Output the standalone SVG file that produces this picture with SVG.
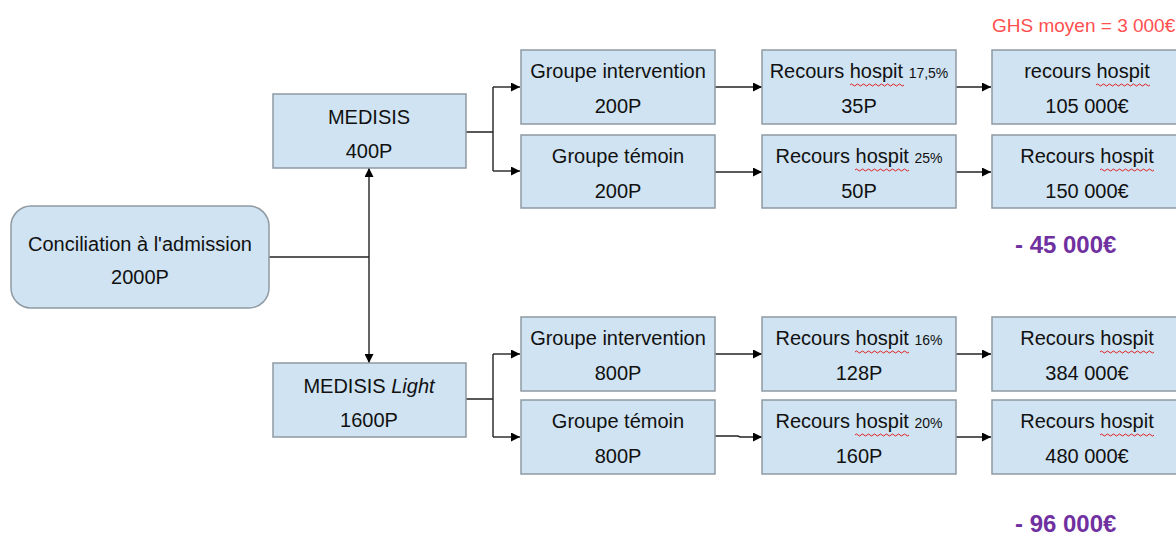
<svg xmlns="http://www.w3.org/2000/svg" width="1176" height="538" viewBox="0 0 1176 538">
<defs>
<marker id="ah" viewBox="0 0 10 10" refX="10" refY="5" markerWidth="10" markerHeight="9" markerUnits="userSpaceOnUse" orient="auto">
<path d="M0,0 L10,5 L0,10 z" fill="#000"/>
</marker>
<path id="wave" d="M0,0 q1.5,-2 3,0 t3,0 t3,0 t3,0 t3,0 t3,0 t3,0 t3,0 t3,0 t3,0 t3,0 t3,0 t3,0 t3,0 t3,0 t3,0 t3,0 t3,0"/>
<style>
.box{fill:#cfe3f2;stroke:#8f9aa3;stroke-width:1.5}
.t{font-family:"Liberation Sans",Arial,sans-serif;font-size:20px;fill:#111;text-anchor:middle}
.s{font-size:14px}
.c{fill:none;stroke:#222;stroke-width:1.4}
.sq{fill:none;stroke:#e02020;stroke-width:1}
.ghs{font-family:"Liberation Sans",Arial,sans-serif;font-size:19px;fill:#ff4f4f}
.tot{font-family:"Liberation Sans",Arial,sans-serif;font-size:24px;font-weight:bold;fill:#7030a0}
</style>
</defs>
<rect width="1176" height="538" fill="#fff"/>

<g id="connectors">
<path class="c" d="M269,257 H369"/>
<path class="c" d="M369,257 V168" marker-end="url(#ah)"/>
<path class="c" d="M369,257 V363" marker-end="url(#ah)"/>
<path class="c" d="M466,132 H493 M493,87 V171"/>
<path class="c" d="M493,87 H520" marker-end="url(#ah)"/>
<path class="c" d="M493,171 H520" marker-end="url(#ah)"/>
<path class="c" d="M466,399 H493 M493,354 V437"/>
<path class="c" d="M493,354 H520" marker-end="url(#ah)"/>
<path class="c" d="M493,437 H520" marker-end="url(#ah)"/>
<path class="c" d="M715,87 H762" marker-end="url(#ah)"/>
<path class="c" d="M715,172 H762" marker-end="url(#ah)"/>
<path class="c" d="M715,354 H762" marker-end="url(#ah)"/>
<path class="c" d="M715,436 H738 L740,437 H762" marker-end="url(#ah)"/>
<path class="c" d="M956,87 H991" marker-end="url(#ah)"/>
<path class="c" d="M956,172 H991" marker-end="url(#ah)"/>
<path class="c" d="M956,354 H991" marker-end="url(#ah)"/>
<path class="c" d="M956,437 H991" marker-end="url(#ah)"/>
</g>

<g id="conciliation">
<rect class="box" x="11" y="206" width="258" height="102" rx="20" ry="20"/>
<text class="t" x="140" y="251">Conciliation à l'admission</text>
<text class="t" x="140" y="284">2000P</text>
</g>

<g id="medisis">
<rect class="box" x="273" y="94" width="193" height="74"/>
<text class="t" x="369" y="124">MEDISIS</text>
<text class="t" x="369" y="158">400P</text>
</g>

<g id="medisis-light">
<rect class="box" x="273" y="363" width="193" height="74"/>
<text class="t" x="369" y="393">MEDISIS <tspan font-style="italic">Light</tspan></text>
<text class="t" x="369" y="427">1600P</text>
</g>

<g id="gi1">
<rect class="box" x="521" y="50" width="194" height="74"/>
<text class="t" x="618" y="78">Groupe intervention</text>
<text class="t" x="618" y="113">200P</text>
</g>
<g id="gt1">
<rect class="box" x="521" y="135" width="194" height="73"/>
<text class="t" x="618" y="163">Groupe témoin</text>
<text class="t" x="618" y="198">200P</text>
</g>
<g id="rh1">
<rect class="box" x="762" y="50" width="194" height="74"/>
<text class="t" x="859" y="78">Recours hospit <tspan class="s">17,5%</tspan></text>
<text class="t" x="859" y="113">35P</text>
</g>
<g id="rh2">
<rect class="box" x="762" y="135" width="194" height="73"/>
<text class="t" x="859" y="163">Recours hospit <tspan class="s">25%</tspan></text>
<text class="t" x="859" y="198">50P</text>
</g>
<g id="cost1">
<rect class="box" x="992" y="50" width="194" height="74"/>
<text class="t" x="1087" y="78">recours hospit</text>
<text class="t" x="1087" y="113">105 000€</text>
</g>
<g id="cost2">
<rect class="box" x="992" y="135" width="194" height="73"/>
<text class="t" x="1087" y="163">Recours hospit</text>
<text class="t" x="1087" y="198">150 000€</text>
</g>

<g id="gi2">
<rect class="box" x="521" y="317" width="194" height="74"/>
<text class="t" x="618" y="345">Groupe intervention</text>
<text class="t" x="618" y="380">800P</text>
</g>
<g id="gt2">
<rect class="box" x="521" y="400" width="194" height="74"/>
<text class="t" x="618" y="428">Groupe témoin</text>
<text class="t" x="618" y="463">800P</text>
</g>
<g id="rh3">
<rect class="box" x="762" y="317" width="194" height="74"/>
<text class="t" x="859" y="345">Recours hospit <tspan class="s">16%</tspan></text>
<text class="t" x="859" y="380">128P</text>
</g>
<g id="rh4">
<rect class="box" x="762" y="400" width="194" height="74"/>
<text class="t" x="859" y="428">Recours hospit <tspan class="s">20%</tspan></text>
<text class="t" x="859" y="463">160P</text>
</g>
<g id="cost3">
<rect class="box" x="992" y="317" width="194" height="74"/>
<text class="t" x="1087" y="345">Recours hospit</text>
<text class="t" x="1087" y="380">384 000€</text>
</g>
<g id="cost4">
<rect class="box" x="992" y="400" width="194" height="74"/>
<text class="t" x="1087" y="428">Recours hospit</text>
<text class="t" x="1087" y="463">480 000€</text>
</g>

<g id="squiggles" class="sq">
<use href="#wave" x="850" y="85"/>
<use href="#wave" x="1096" y="85"/>
<use href="#wave" x="855" y="170"/>
<use href="#wave" x="1100" y="170"/>
<use href="#wave" x="855" y="352"/>
<use href="#wave" x="1100" y="352"/>
<use href="#wave" x="855" y="435"/>
<use href="#wave" x="1100" y="435"/>
</g>

<g id="labels">
<text class="ghs" x="992" y="32">GHS moyen = 3 000€</text>
<text class="tot" x="1015" y="253">- 45 000€</text>
<text class="tot" x="1015" y="532">- 96 000€</text>
</g>
</svg>
